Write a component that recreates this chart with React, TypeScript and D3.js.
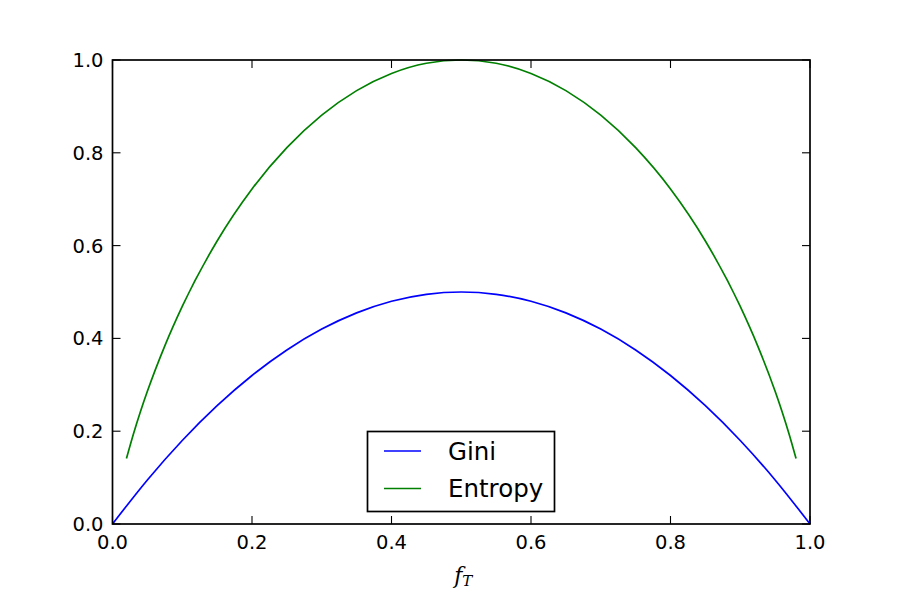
import * as d3 from "d3"

// sampled from the plot: fraction f_T on x, impurity on y
const giniX = [0, 0.05, 0.1, 0.15, 0.2, 0.25, 0.3, 0.35, 0.4, 0.45, 0.5, 0.55, 0.6, 0.65, 0.7, 0.75, 0.8, 0.85, 0.9, 0.95, 1]
const giniY = [0, 0.095, 0.18, 0.255, 0.32, 0.375, 0.42, 0.455, 0.48, 0.495, 0.5, 0.495, 0.48, 0.455, 0.42, 0.375, 0.32, 0.255, 0.18, 0.095, 0]

const entropyX = [0.02, 0.03, 0.04, 0.05, 0.075, 0.1, 0.15, 0.2, 0.25, 0.3, 0.35, 0.4, 0.45, 0.5, 0.55, 0.6, 0.65, 0.7, 0.75, 0.8, 0.85, 0.9, 0.925, 0.95, 0.96, 0.97, 0.98]
const entropyY = [0.141, 0.194, 0.242, 0.286, 0.384, 0.469, 0.61, 0.722, 0.811, 0.881, 0.934, 0.971, 0.993, 1.0, 0.993, 0.971, 0.934, 0.881, 0.811, 0.722, 0.61, 0.469, 0.384, 0.286, 0.242, 0.194, 0.141]

const tickValues = [0, 0.2, 0.4, 0.6, 0.8, 1.0]
const tickLabels = ["0.0", "0.2", "0.4", "0.6", "0.8", "1.0"]

const seriesNames = ["Gini", "Entropy"]
const seriesColors = ["#0000ff", "#008000"]

export default function App() {
  const width = 900
  const height = 600
  const left = 112.5
  const right = 810
  const top = 60
  const bottom = 524
  const tickLen = 8
  const font = "'DejaVu Sans', sans-serif"

  const x = d3.scaleLinear().domain([0, 1]).range([left, right])
  const y = d3.scaleLinear().domain([0, 1]).range([bottom, top])

  const line = d3
    .line<[number, number]>()
    .x((d) => x(d[0]))
    .y((d) => y(d[1]))
    .curve(d3.curveMonotoneX)

  const giniPts = giniX.map((v, i) => [v, giniY[i]] as [number, number])
  const entropyPts = entropyX.map((v, i) => [v, entropyY[i]] as [number, number])
  const paths = [line(giniPts) || "", line(entropyPts) || ""]

  const lg = { x: 367.5, y: 431.5, w: 187, h: 80 }

  return (
    <svg
      width={width}
      height={height}
      style={{ position: "absolute", left: 0, top: 0, background: "#fff" }}
    >
      <rect x={0} y={0} width={width} height={height} fill="#fff" />

      {paths.map((d, i) => (
        <path key={i} d={d} fill="none" stroke={seriesColors[i]} strokeWidth={1.7} />
      ))}

      {/* ticks, inside on all four sides */}
      <g stroke="#000" strokeWidth={1.1}>
        {tickValues.map((t, i) => (
          <g key={i}>
            <line x1={x(t)} x2={x(t)} y1={bottom} y2={bottom - tickLen} />
            <line x1={x(t)} x2={x(t)} y1={top} y2={top + tickLen} />
            <line x1={left} x2={left + tickLen} y1={y(t)} y2={y(t)} />
            <line x1={right} x2={right - tickLen} y1={y(t)} y2={y(t)} />
          </g>
        ))}
      </g>

      <rect
        x={left}
        y={top}
        width={right - left}
        height={bottom - top}
        fill="none"
        stroke="#000"
        strokeWidth={1.7}
      />

      <g fontFamily={font} fontSize={19.5} fill="#000">
        {tickValues.map((t, i) => (
          <text key={"x" + i} x={x(t)} y={548.5} textAnchor="middle">
            {tickLabels[i]}
          </text>
        ))}
        {tickValues.map((t, i) => (
          <text key={"y" + i} x={103.5} y={y(t)} dy="0.36em" textAnchor="end">
            {tickLabels[i]}
          </text>
        ))}
      </g>

      <text
        x={(left + right) / 2 + 2}
        y={583}
        textAnchor="middle"
        fontFamily="'DejaVu Serif', serif"
        fontStyle="italic"
        fontSize={22}
      >
        f
        <tspan fontSize={15} dy={3}>
          T
        </tspan>
      </text>

      <g>
        <rect
          x={lg.x}
          y={lg.y}
          width={lg.w}
          height={lg.h}
          fill="#fff"
          stroke="#000"
          strokeWidth={1.7}
        />
        {seriesNames.map((name, i) => (
          <g key={name}>
            <line
              x1={384}
              x2={421}
              y1={451 + i * 37.5}
              y2={451 + i * 37.5}
              stroke={seriesColors[i]}
              strokeWidth={1.7}
            />
            <text
              x={448}
              y={451 + i * 37.5}
              dy="0.36em"
              fontFamily={font}
              fontSize={24.5}
              fill="#000"
            >
              {name}
            </text>
          </g>
        ))}
      </g>
    </svg>
  )
}
